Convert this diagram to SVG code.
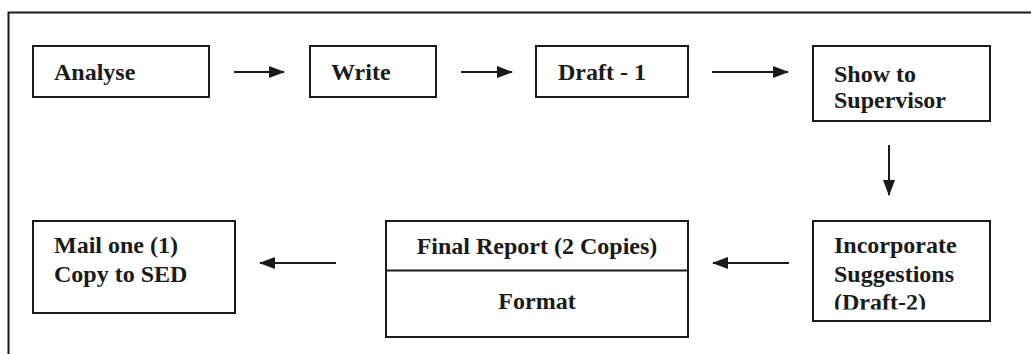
<svg xmlns="http://www.w3.org/2000/svg" width="1031" height="354" viewBox="0 0 1031 354">
  <defs>
    <style>
      .box { fill: #ffffff; stroke: #1a1a1a; stroke-width: 2; }
      .frame { fill: none; stroke: #1a1a1a; stroke-width: 2; }
      .lbl { font-family: "Liberation Serif", "Times New Roman", serif; font-weight: bold; font-size: 24px; fill: #1a1a1a; }
      .mid { text-anchor: middle; }
      .edge { fill: none; stroke: #1a1a1a; stroke-width: 2; }
    </style>
    <marker id="head" viewBox="0 0 16 12" refX="15" refY="6" markerWidth="16" markerHeight="12" markerUnits="userSpaceOnUse" orient="auto">
      <path d="M0,0 L16,6 L0,12 Z" fill="#1a1a1a"/>
    </marker>
    <clipPath id="clipIncorporate">
      <rect x="813" y="221" width="177" height="88.5"/>
    </clipPath>
  </defs>

  <rect width="1031" height="354" fill="#ffffff"/>

  <!-- outer frame: open on the right and bottom -->
  <path class="frame" d="M1031,12.5 H8.5 V354"/>

  <g id="analyse">
    <rect class="box" x="33" y="46" width="176" height="51"/>
    <text class="lbl" x="54" y="80">Analyse</text>
  </g>

  <g id="write">
    <rect class="box" x="310" y="46" width="126" height="51"/>
    <text class="lbl" x="331" y="80">Write</text>
  </g>

  <g id="draft1">
    <rect class="box" x="536" y="46" width="152" height="51"/>
    <text class="lbl" x="558" y="80">Draft - 1</text>
  </g>

  <g id="supervisor">
    <rect class="box" x="813" y="46" width="177" height="75"/>
    <text class="lbl" x="834" y="82">Show to</text>
    <text class="lbl" x="834" y="108">Supervisor</text>
  </g>

  <g id="incorporate">
    <rect class="box" x="813" y="221" width="177" height="100"/>
    <g clip-path="url(#clipIncorporate)">
      <text class="lbl" x="834" y="253">Incorporate</text>
      <text class="lbl" x="834" y="281.5">Suggestions</text>
      <text class="lbl" x="834" y="310">(Draft-2)</text>
    </g>
  </g>

  <g id="final-report">
    <rect class="box" x="386" y="221" width="302" height="116"/>
    <line class="edge" x1="386" y1="270.5" x2="688" y2="270.5"/>
    <text class="lbl mid" x="537" y="254">Final Report (2 Copies)</text>
    <text class="lbl mid" x="537" y="309">Format</text>
  </g>

  <g id="mail">
    <rect class="box" x="33" y="221" width="202" height="92"/>
    <text class="lbl" x="54" y="253">Mail one (1)</text>
    <text class="lbl" x="54" y="282">Copy to SED</text>
  </g>

  <g id="connectors">
    <line class="edge" x1="234" y1="72" x2="284" y2="72" marker-end="url(#head)"/>
    <line class="edge" x1="461" y1="72" x2="512" y2="72" marker-end="url(#head)"/>
    <line class="edge" x1="712" y1="72" x2="788" y2="72" marker-end="url(#head)"/>
    <line class="edge" x1="889" y1="145" x2="889" y2="195" marker-end="url(#head)"/>
    <line class="edge" x1="789" y1="263" x2="713" y2="263" marker-end="url(#head)"/>
    <line class="edge" x1="336" y1="263" x2="260" y2="263" marker-end="url(#head)"/>
  </g>
</svg>
